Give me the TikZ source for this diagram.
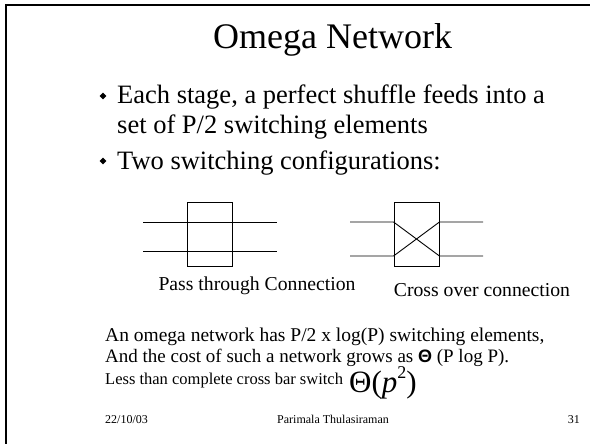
\documentclass[tikz,border=0pt]{standalone}
\usepackage{fontspec}
\setmainfont{Liberation Serif}
\newfontfamily\symfont{Liberation Sans}
\usetikzlibrary{shapes.geometric}
\begin{document}
\begin{tikzpicture}[x=1pt,y=-1pt,
  txt/.style={inner sep=0pt,anchor=base west},
  ctxt/.style={inner sep=0pt,anchor=base},
  bul/.style={diamond,fill=black,inner sep=0pt,minimum size=7pt},
  swbox/.style={draw,line width=0.9pt,inner sep=0pt,minimum width=45pt,minimum height=64pt},
  wire/.style={line width=0.9pt}]
\useasboundingbox (0,0) rectangle (590,444);
% slide frame (top and left edges)
\draw[line width=2.4pt] (6,444) -- (6,5) -- (590,5);

% title
\node[txt] (title) at (213,49) {\fontsize{36}{40}\selectfont Omega Network};

% bullets
\node[bul] (b1) at (103,96) {};
\node[txt] (l1) at (117,104) {\fontsize{26.5}{30}\selectfont Each stage, a perfect shuffle feeds into a};
\node[txt] (l2) at (117,134) {\fontsize{26.5}{30}\selectfont set of P/2 switching elements};
\node[bul] (b2) at (103,161) {};
\node[txt] (l3) at (117,169) {\fontsize{26.5}{30}\selectfont Two switching configurations:};

% pass-through switch
\node[swbox] (pass) at (209.5,234) {};
\coordinate (pa1) at (143,222);
\coordinate (pa2) at (143,251);
\coordinate (pb1) at (277,222);
\coordinate (pb2) at (277,251);
\draw[wire] (pa1) -- (pb1);
\draw[wire] (pa2) -- (pb2);
\node[ctxt] (passlbl) at (257,290) {\fontsize{19.7}{24}\selectfont Pass through Connection};

% cross-over switch
\node[swbox] (cross) at (416.5,234) {};
\coordinate (ca1) at (350,222);
\coordinate (ca2) at (350,256);
\coordinate (cb1) at (483,222);
\coordinate (cb2) at (483,256);
\coordinate (ci1) at (cross.west |- ca1);
\coordinate (ci2) at (cross.west |- ca2);
\coordinate (co1) at (cross.east |- cb1);
\coordinate (co2) at (cross.east |- cb2);
\draw[wire] (ca1) -- (ci1) -- (co2) -- (cb2);
\draw[wire] (ca2) -- (ci2) -- (co1) -- (cb1);
\node[ctxt] (crosslbl) at (482,296) {\fontsize{19.7}{24}\selectfont Cross over connection};

% cost remarks
\node[txt] (c1) at (105,341) {\fontsize{19.5}{22}\selectfont An omega network has P/2 x log(P) switching elements,};
\node[txt] (c2) at (105,362) {\fontsize{19}{22}\selectfont And the cost of such a network grows as {\symfont\bfseries\fontsize{18}{22}\selectfont Θ} (P log P).};
\node[txt] (c3) at (105,384) {\fontsize{16.5}{20}\selectfont Less than complete cross bar switch};
\node[txt,text height=19pt,text depth=6pt] (c4) at (349,392) {\fontsize{31}{34}\selectfont Θ(\textit{p}\raisebox{0.42em}{\fontsize{18}{18}\selectfont 2})};

% footer
\node[txt] (date) at (105,423) {\fontsize{12}{14}\selectfont 22/10/03};
\node[ctxt] (author) at (333,423) {\fontsize{12}{14}\selectfont Parimala Thulasiraman};
\node[inner sep=0pt,anchor=base east] (page) at (580,423) {\fontsize{12}{14}\selectfont 31};
\end{tikzpicture}
\end{document}
